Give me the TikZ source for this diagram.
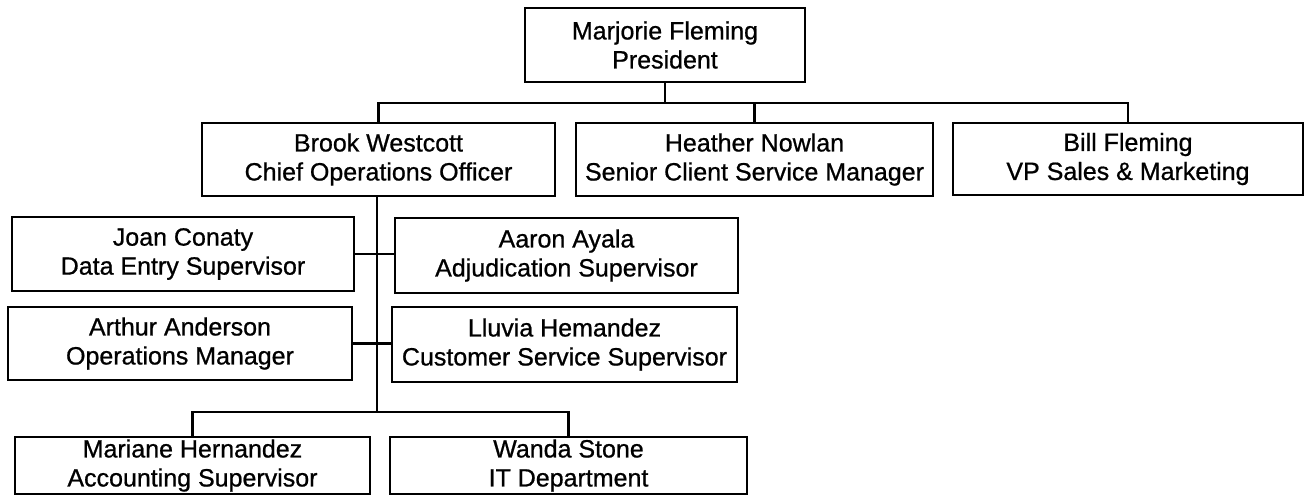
\documentclass[tikz,border=0pt]{standalone}
\usepackage{fontspec}
\setmainfont{Liberation Sans}[FakeBold=0.8]
\begin{document}
\begin{tikzpicture}[x=0.5pt,y=-0.5pt,
  box/.style={draw, line width=1.1pt, inner sep=0pt, align=center,
    font=\fontsize{12.5}{14.5}\selectfont},
  link/.style={line width=1.1pt}]
\useasboundingbox (0,0) rectangle (1305,496);
\node[box, minimum width=140pt, minimum height=37pt] (pres) at (665,45) {Marjorie Fleming\\President};
\node[box, minimum width=176.5pt, minimum height=36.5pt] (brook) at (378.5,159.5) {Brook Westcott\\Chief Operations Officer};
\node[box, minimum width=178.5pt, minimum height=36.5pt] (heather) at (754.5,159.5) {Heather Nowlan\\Senior Client Service Manager};
\node[box, minimum width=175pt, minimum height=36pt] (bill) at (1128,159) {Bill Fleming\\VP Sales \& Marketing};
\node[box, minimum width=171pt, minimum height=37pt] (joan) at (183,254) {Joan Conaty\\Data Entry Supervisor};
\node[box, minimum width=171.5pt, minimum height=37.5pt] (aaron) at (566.5,255.5) {Aaron Ayala\\Adjudication Supervisor};
\node[box, minimum width=172pt, minimum height=36.5pt] (arthur) at (180,343.5) {Arthur Anderson\\Operations Manager};
\node[box, minimum width=172.5pt, minimum height=37.5pt] (lluvia) at (564.5,344.5) {Lluvia Hemandez\\Customer Service Supervisor};
\node[box, minimum width=177.5pt, minimum height=28.5pt] (mariane) at (192.5,465.5) {Mariane Hernandez\\Accounting Supervisor};
\node[box, minimum width=178.5pt, minimum height=28.5pt] (wanda) at (568.5,465.5) {Wanda Stone\\IT Department};
\coordinate (tb) at (664,103);
\coordinate (bb) at (377,412);
\draw[link] (pres.south) -- (pres.south |- tb);
\draw[link] (brook.north) -- (brook.north |- tb) -- (bill.north |- tb) -- (bill.north);
\draw[link] (heather.north) -- (heather.north |- tb);
\draw[link] (brook.south -| bb) -- (bb);
\draw[link] (joan.east) -- (joan.east -| aaron.west);
\draw[link] (arthur.east) -- (arthur.east -| lluvia.west);
\draw[link] (mariane.north) -- (mariane.north |- bb) -- (wanda.north |- bb) -- (wanda.north);
\end{tikzpicture}
\end{document}
